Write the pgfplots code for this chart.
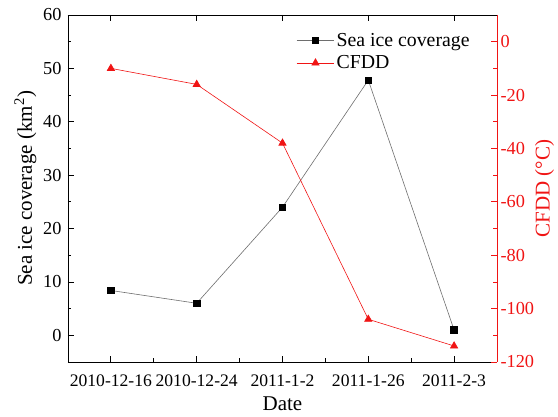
\documentclass[border=0pt]{standalone}
\usepackage{fontspec}
\setmainfont{Liberation Serif}
\usepackage{pgfplots}
\pgfplotsset{compat=1.18}
\definecolor{cred}{RGB}{240,20,20}
\definecolor{cgray}{RGB}{110,110,110}
\begin{document}
\begin{tikzpicture}
\pgfplotsset{every axis/.append style={
  scale only axis, width=429pt, height=347pt,
  xmin=-0.5, xmax=4.5,
  font=\fontsize{17.6}{20}\selectfont,
  /pgf/number format/assume math mode=true,
  major tick length=6pt, minor tick length=3.5pt,
  tick align=inside,
  every axis plot/.append style={line width=0.6pt},
}}
\begin{axis}[
  axis x line*=bottom, axis y line*=left,
  axis line style={line width=0.9pt, -},
  every tick/.style={line width=0.8pt, black},
  ymin=-5, ymax=60, ytick={0,10,...,60}, minor y tick num=1,
  xtick={0,...,4}, xticklabels={2010-12-16,2010-12-24,2011-1-2,2011-1-26,2011-2-3},
  minor x tick num=1,
  xticklabel style={yshift=-9pt},
  yticklabel style={xshift=-3pt, font=\fontsize{18.3}{21}\selectfont},
  xlabel={Date}, ylabel={Sea ice coverage (km\textsuperscript{2})},
  label style={font=\fontsize{21}{23}\selectfont},
  xlabel style={yshift=-3pt},
]
\coordinate (sw) at (rel axis cs:0,0);
\addplot[cgray, mark=square*, mark size=3.3pt, mark options={black, solid}] coordinates {
  (0,8.4) (1,6.0) (2,24.0) (3,47.8) (4,1.0)};
\end{axis}
\begin{axis}[
  axis x line*=top, axis y line*=right,
  x axis line style={line width=0.9pt, black, -},
  y axis line style={line width=0.9pt, cred, -},
  xtick={0,...,4}, xticklabels={}, xtick style={line width=0.8pt, black},
  minor x tick num=0,
  ymin=-120, ymax=10, ytick={-120,-100,...,0}, minor y tick num=1,
  ytick style={line width=0.8pt, cred},
  yticklabel style={cred, font=\fontsize{18.3}{21}\selectfont},
  ylabel={CFDD (°C)}, ylabel style={cred, font=\fontsize{21}{23}\selectfont},
  ylabel shift=-6pt,
  legend style={at={(rel axis cs:0.525,0.96)}, anchor=north west, draw=none, fill=none,
    font=\fontsize{19.8}{22}\selectfont, row sep=4pt},
  legend cell align=left,
  legend image code/.code={\draw[mark repeat=2,mark phase=2] plot coordinates {(0cm,0cm) (0.66cm,0cm) (1.32cm,0cm)};},
]
\addlegendimage{cgray, line width=0.6pt, mark=square*, mark size=3.3pt, mark options={black, solid}}
\addlegendentry{Sea ice coverage}
\addplot[cred, mark=triangle*, mark size=4.2pt, mark options={cred, solid}] coordinates {
  (0,-10) (1,-16) (2,-38) (3,-104) (4,-114)};
\addlegendentry{CFDD}
\end{axis}
\pgfresetboundingbox
\path (sw) ++(-68pt,-55pt) rectangle ++(558pt,417pt);
\end{tikzpicture}
\end{document}
